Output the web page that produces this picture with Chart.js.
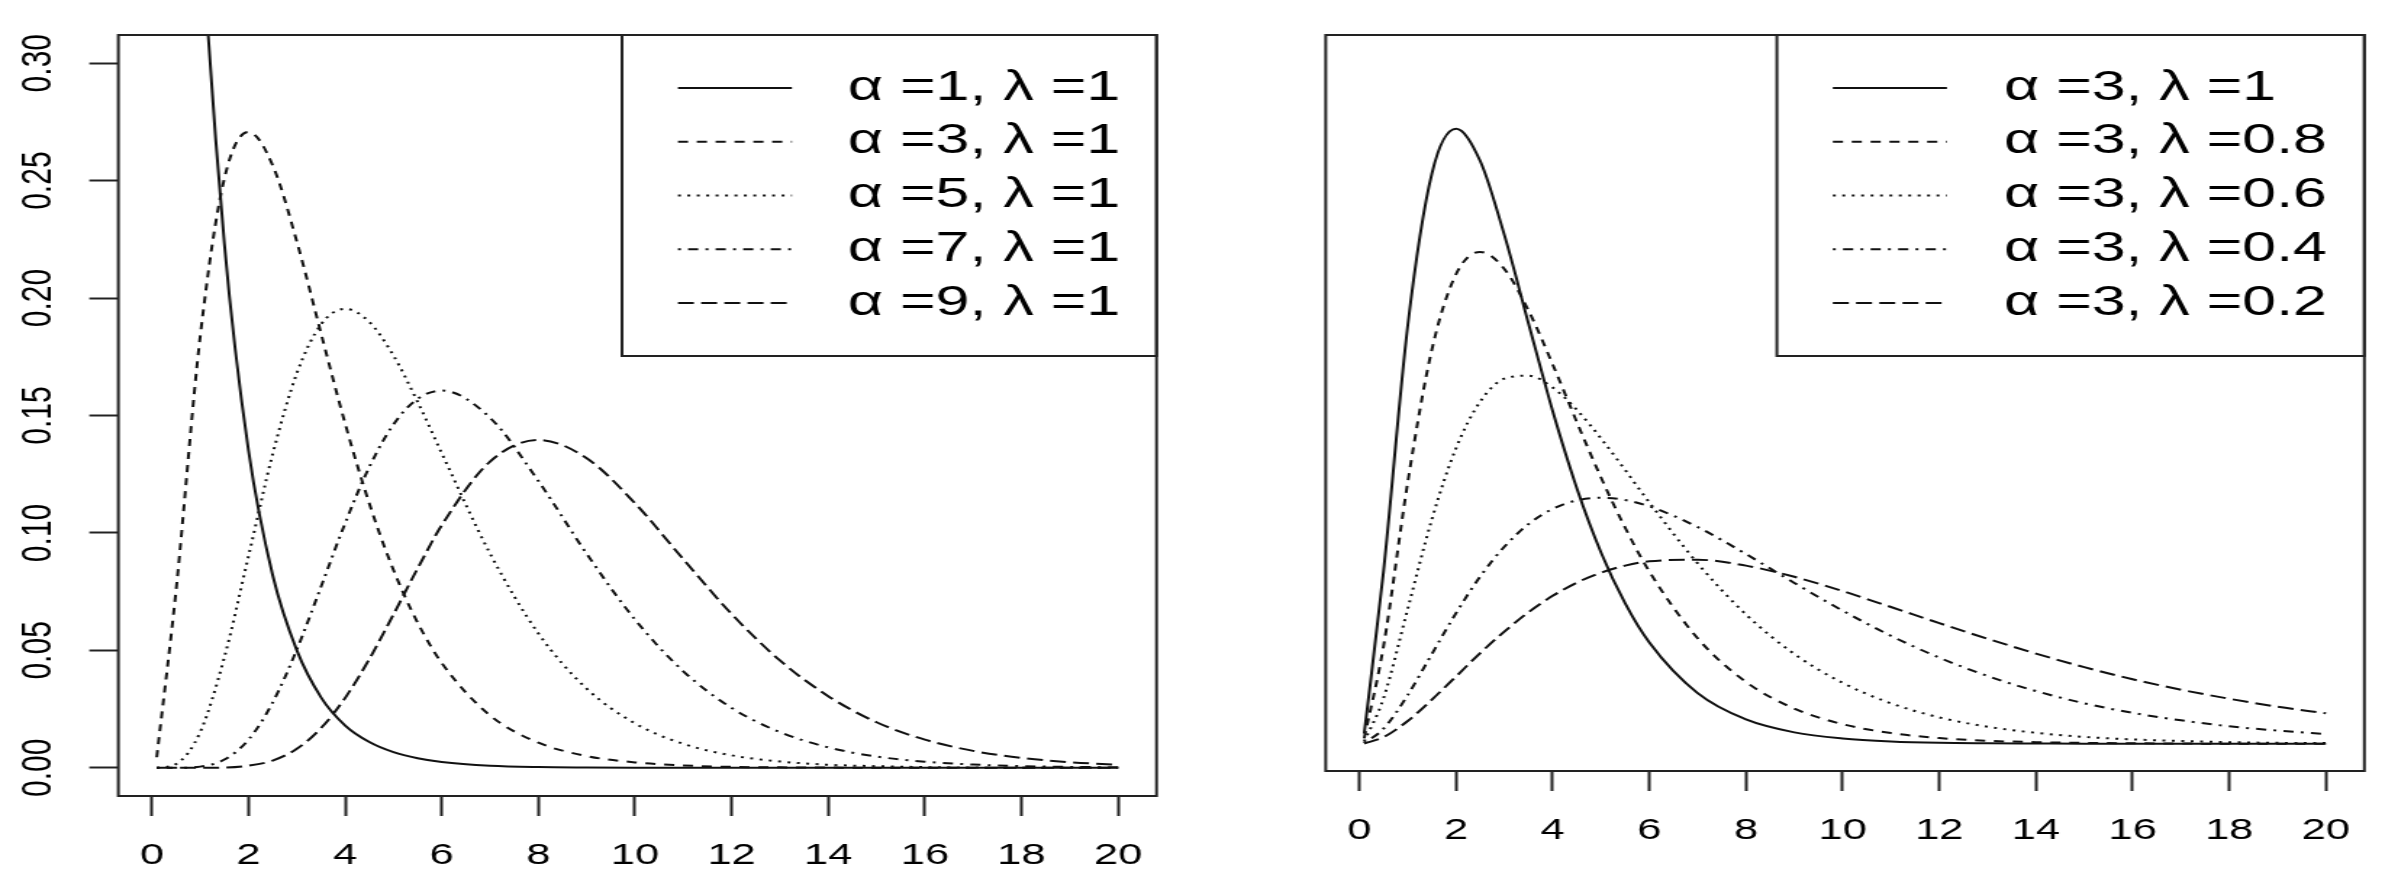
<!DOCTYPE html>
<html>
<head>
<meta charset="utf-8">
<script src="https://cdn.jsdelivr.net/npm/chart.js@4.4.1/dist/chart.umd.min.js"></script>
<style>
  html, body { margin: 0; padding: 0; background: #fff; }
  #wrap { position: relative; width: 2398px; height: 882px; overflow: hidden; }
  canvas { position: absolute; top: 0; }
  #leftChart { left: 0; }
  #rightChart { left: 1199px; }
</style>
</head>
<body>
<div id="wrap">
  <canvas id="leftChart" width="827" height="882" style="width:1199px;height:882px"></canvas>
  <canvas id="rightChart" width="827" height="882" style="width:1199px;height:882px"></canvas>
</div>
<script>
const xValues = [0.1, 0.5, 1, 1.5, 2, 2.5, 3, 3.5, 4, 4.5, 5, 5.5, 6, 7, 8, 9, 10, 11, 12, 13, 14, 15, 16, 17, 18, 19, 20];

const xTicks = [0, 2, 4, 6, 8, 10, 12, 14, 16, 18, 20];
const yTicks = [0, 0.05, 0.10, 0.15, 0.20, 0.25, 0.30];

const leftLabels = ['α =1, λ =1', 'α =3, λ =1', 'α =5, λ =1', 'α =7, λ =1', 'α =9, λ =1'];
const rightLabels = ['α =3, λ =1', 'α =3, λ =0.8', 'α =3, λ =0.6', 'α =3, λ =0.4', 'α =3, λ =0.2'];

// left panel
const alpha1 = [0.905, 0.607, 0.368, 0.223, 0.135, 0.082, 0.050, 0.030, 0.018, 0.011, 0.0067, 0.0041, 0.0025, 0.0009, 0.0003, 0.0001, 0, 0, 0, 0, 0, 0, 0, 0, 0, 0, 0];
const alpha3 = [0.0045, 0.0758, 0.1839, 0.2510, 0.2707, 0.2565, 0.2240, 0.1850, 0.1465, 0.1125, 0.0842, 0.0618, 0.0446, 0.0223, 0.0107, 0.0050, 0.0023, 0.0010, 0.0004, 0.0002, 0.0001, 0, 0, 0, 0, 0, 0];
const alpha5 = [0, 0.0016, 0.0153, 0.0471, 0.0902, 0.1336, 0.1680, 0.1888, 0.1954, 0.1898, 0.1755, 0.1558, 0.1339, 0.0912, 0.0572, 0.0337, 0.0189, 0.0102, 0.0053, 0.0027, 0.0013, 0.0007, 0.0003, 0.0001, 0, 0, 0];
const alpha7 = [0, 0, 0.0005, 0.0035, 0.0120, 0.0278, 0.0504, 0.0771, 0.1042, 0.1281, 0.1462, 0.1571, 0.1606, 0.1490, 0.1221, 0.0911, 0.0631, 0.0411, 0.0255, 0.0152, 0.0087, 0.0048, 0.0026, 0.0014, 0.0007, 0.0004, 0.0002];
const alpha9 = [0, 0, 0, 0.0001, 0.0009, 0.0031, 0.0081, 0.0169, 0.0298, 0.0463, 0.0653, 0.0849, 0.1033, 0.1304, 0.1396, 0.1318, 0.1126, 0.0888, 0.0655, 0.0457, 0.0305, 0.0194, 0.0120, 0.0072, 0.0042, 0.0024, 0.0013];

// right panel
const lambda10 = [0.0045, 0.0758, 0.1839, 0.2510, 0.2707, 0.2565, 0.2240, 0.1850, 0.1465, 0.1125, 0.0842, 0.0618, 0.0446, 0.0223, 0.0107, 0.0050, 0.0023, 0.0010, 0.0004, 0.0002, 0.0001, 0, 0, 0, 0, 0, 0];
const lambda08 = [0.0024, 0.0429, 0.1150, 0.1735, 0.2067, 0.2165, 0.2090, 0.1907, 0.1670, 0.1416, 0.1172, 0.0951, 0.0758, 0.0464, 0.0272, 0.0155, 0.0086, 0.0047, 0.0025, 0.0013, 0.0007, 0.0004, 0.0002, 0.0001, 0, 0, 0];
const lambda06 = [0.0010, 0.0200, 0.0593, 0.0988, 0.1301, 0.1506, 0.1607, 0.1620, 0.1568, 0.1470, 0.1344, 0.1205, 0.1062, 0.0794, 0.0569, 0.0395, 0.0268, 0.0178, 0.0116, 0.0075, 0.0048, 0.0030, 0.0019, 0.0012, 0.0007, 0.0004, 0.0003];
const lambda04 = [0.0003, 0.0066, 0.0214, 0.0395, 0.0575, 0.0736, 0.0867, 0.0967, 0.1034, 0.1071, 0.1083, 0.1073, 0.1045, 0.0954, 0.0835, 0.0708, 0.0586, 0.0475, 0.0379, 0.0298, 0.0232, 0.0178, 0.0136, 0.0103, 0.0077, 0.0058, 0.0043];
const lambda02 = [0.0001, 0.0029, 0.0100, 0.0194, 0.0296, 0.0399, 0.0494, 0.0579, 0.0651, 0.0709, 0.0753, 0.0784, 0.0803, 0.0810, 0.0784, 0.0735, 0.0672, 0.0602, 0.0531, 0.0462, 0.0397, 0.0337, 0.0284, 0.0238, 0.0198, 0.0163, 0.0134];

// solid, dashed, dotted, dotdash, longdash
const lineStyles = [[], [7, 6], [2, 4.5], [2, 5, 7, 5], [11, 5]];
const fontFamily = '"Liberation Sans", Arial, sans-serif';

const plotBox = {
    id: 'plotBox',
    afterDatasetsDraw(chart) {
        const a = chart.chartArea;
        const ctx = chart.ctx;
        ctx.save();
        ctx.strokeStyle = '#222';
        ctx.lineWidth = 2;
        ctx.strokeRect(a.left, a.top, a.right - a.left, a.bottom - a.top);
        ctx.restore();
    }
};

const boxLegend = {
    id: 'boxLegend',
    afterDraw(chart, args, opts) {
        const a = chart.chartArea;
        const ctx = chart.ctx;
        ctx.save();
        ctx.strokeStyle = '#222';
        ctx.lineWidth = 2;
        ctx.strokeRect(opts.left, a.top, a.right - opts.left, opts.bottom - a.top);
        ctx.font = `42px ${fontFamily}`;
        ctx.textBaseline = 'middle';
        ctx.fillStyle = '#000';
        chart.data.datasets.forEach((ds, i) => {
            const y = opts.firstRow + i * opts.rowGap;
            ctx.strokeStyle = '#111';
            ctx.lineWidth = 1.8;
            ctx.setLineDash(ds.borderDash);
            ctx.beginPath();
            ctx.moveTo(opts.sampleX, y);
            ctx.lineTo(opts.sampleX + opts.sampleW, y);
            ctx.stroke();
            ctx.setLineDash([]);
            ctx.fillText(ds.label, opts.textX, y);
        });
        ctx.restore();
    }
};

function buildDatasets(series, labels) {
    return series.map((values, i) => ({
        label: labels[i],
        data: xValues.map((x, j) => ({x: x, y: values[j]})),
        borderColor: '#111',
        borderWidth: 2,
        borderDash: lineStyles[i],
        pointRadius: 0,
        cubicInterpolationMode: 'monotone',
        fill: false
    }));
}

function xScale(height) {
    return {
        type: 'linear',
        min: -0.696,
        max: 20.796,
        afterBuildTicks: s => { s.ticks = xTicks.map(v => ({value: v})); },
        afterFit: s => { s.height = height; },
        border: { display: false },
        grid: { drawOnChartArea: false, tickLength: 20, tickWidth: 2, tickColor: '#222' },
        ticks: { autoSkip: false, minRotation: 0, maxRotation: 0, padding: 22, color: '#000', font: { size: 30, family: fontFamily } }
    };
}

function makeChart(id, series, labels, setup) {
    const ctx = document.getElementById(id).getContext('2d');
    const yAxis = setup.showY ? {
        type: 'linear',
        min: -0.012,
        max: 0.312,
        afterBuildTicks: s => { s.ticks = yTicks.map(v => ({value: v})); },
        afterFit: s => { s.width = setup.yWidth; },
        border: { display: false },
        grid: { drawOnChartArea: false, tickLength: 20, tickWidth: 2, tickColor: '#222' },
        ticks: {
            minRotation: 90,
            maxRotation: 90,
            crossAlign: 'center',
            padding: 5.4,
            color: '#000',
            font: { size: 30, family: fontFamily },
            callback: v => v.toFixed(2)
        }
    } : { type: 'linear', display: false, min: -0.012, max: 0.312 };

    return new Chart(ctx, {
        type: 'line',
        data: { datasets: buildDatasets(series, labels) },
        plugins: [plotBox, boxLegend],
        options: {
            responsive: false,
            devicePixelRatio: 1,
            animation: false,
            events: [],
            layout: { padding: setup.padding },
            scales: { x: xScale(setup.xHeight), y: yAxis },
            plugins: {
                legend: { display: false },
                tooltip: { enabled: false },
                boxLegend: setup.legend
            }
        }
    });
}

makeChart('leftChart', [alpha1, alpha3, alpha5, alpha7, alpha9], leftLabels, {
    showY: true,
    yWidth: 81.6,
    xHeight: 86,
    padding: { top: 35, right: 29.3, left: 0, bottom: 0 },
    legend: { left: 429, bottom: 356, sampleX: 467.6, sampleW: 78.6, textX: 584.8, firstRow: 88, rowGap: 53.75 }
});

makeChart('rightChart', [lambda10, lambda08, lambda06, lambda04, lambda02], rightLabels, {
    showY: false,
    xHeight: 111,
    padding: { top: 35, right: 23.2, left: 87.4, bottom: 0 },
    legend: { left: 398.6, bottom: 356, sampleX: 437.2, sampleW: 78.7, textX: 555.2, firstRow: 88, rowGap: 53.75 }
});
</script>
</body>
</html>
